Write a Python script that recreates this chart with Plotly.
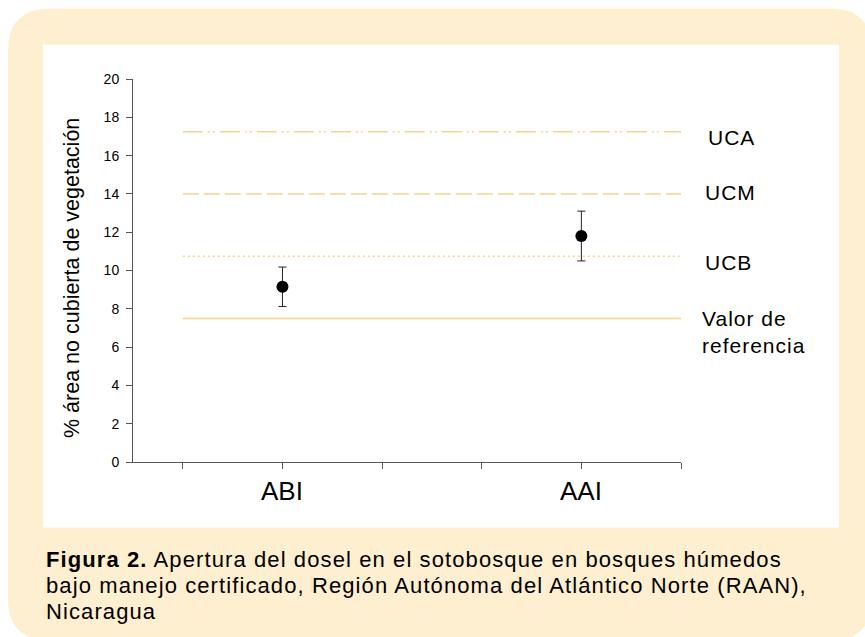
import plotly.graph_objects as go

# Canopy opening (% area without vegetation cover) per site
sites = ["ABI", "AAI"]
site_pos = [1.5, 4.5]
mean_opening = [9.15, 11.8]
err_opening = [1.03, 1.3]

# Reference thresholds
thr_names = ["UCA", "UCM", "UCB", "Valor de<br>referencia"]
thr_values = [17.25, 14.0, 10.75, 7.5]
thr_dash = ["20px,5px,2px,3px,2px,5px", "16px,5px", "2px,3px", "solid"]

y_ticks = [0, 2, 4, 6, 8, 10, 12, 14, 16, 18, 20]
x_ticks = [0.5, 1.5, 2.5, 3.5, 4.5, 5.5]

W, H = 865, 637
L, R, T, B = 133, 681, 79.3, 461.7


def px(x):
    return (x - L) / (R - L)


def py(y):
    return (B - y) / (B - T)


FONT = "Liberation Sans, Arial, sans-serif"
LINE_COLOR = "#F8D38E"

fig = go.Figure()

for name, val, dash in zip(thr_names, thr_values, thr_dash):
    fig.add_trace(go.Scatter(
        x=[x_ticks[0], x_ticks[-1]], y=[val, val], mode="lines",
        line=dict(color=LINE_COLOR, width=1.5, dash=dash),
        hoverinfo="skip", showlegend=False,
    ))

fig.add_trace(go.Scatter(
    x=site_pos, y=mean_opening, mode="markers",
    marker=dict(color="black", size=12),
    error_y=dict(type="data", array=err_opening, visible=True,
                 color="#222222", thickness=1, width=4),
    showlegend=False,
))

# Framed background: beige rounded card with white inner panel
x0, x1, y0, y1, r = px(8), px(872), py(9), py(640), 42
rx = r / (R - L)
ry = r / (B - T)
card = (f"M {x0 + rx},{y0} L {x1 - rx},{y0} Q {x1},{y0} {x1},{y0 - ry} "
        f"L {x1},{y1 + ry} Q {x1},{y1} {x1 - rx},{y1} "
        f"L {x0 + rx},{y1} Q {x0},{y1} {x0},{y1 + ry} "
        f"L {x0},{y0 - ry} Q {x0},{y0} {x0 + rx},{y0} Z")
shapes = [
    dict(type="path", xref="paper", yref="paper", path=card,
         fillcolor="#FFEFD1", line=dict(width=0), layer="below"),
    dict(type="rect", xref="paper", yref="paper",
         x0=px(43), x1=px(839), y0=py(45), y1=py(527),
         fillcolor="white", line=dict(width=0), layer="below"),
]

ann = []
# Category labels under the x axis
for s, xp in zip(sites, site_pos):
    ann.append(dict(x=xp, xref="x", y=py(491), yref="paper", text=s,
                    showarrow=False, xanchor="center", yanchor="middle",
                    font=dict(family=FONT, size=26, color="black")))

# Threshold labels at the right
lab_pos = [(706, 137.7), (703, 192.7), (703, 262.7), (700, 331.5)]
for name, (lx, ly) in zip(thr_names, lab_pos):
    ann.append(dict(x=px(lx), xref="paper", y=py(ly), yref="paper",
                    text=f'<span style="letter-spacing:1px">{name}</span>',
                    showarrow=False, xanchor="left", yanchor="middle", align="left",
                    font=dict(family=FONT, size=21, color="black")))

# Y axis title
ann.append(dict(x=px(72), xref="paper", y=py(278), yref="paper",
                text="% área no cubierta de vegetación", textangle=-90,
                showarrow=False, xanchor="center", yanchor="middle",
                font=dict(family=FONT, size=21.5, color="black")))

# Caption
cap_lines = [
    "<b>Figura 2.</b> Apertura del dosel en el sotobosque en bosques húmedos",
    "bajo manejo certificado, Región Autónoma del Atlántico Norte (RAAN),",
    "Nicaragua",
]
for i, line in enumerate(cap_lines):
    ann.append(dict(x=px(44), xref="paper", y=py(559 + 26 * i), yref="paper",
                    text=f'<span style="letter-spacing:1.1px">{line}</span>',
                    showarrow=False, xanchor="left", yanchor="middle", align="left",
                    font=dict(family=FONT, size=22, color="black")))

fig.update_layout(
    width=W, height=H, autosize=False,
    margin=dict(l=L, r=W - R, t=T, b=H - B),
    paper_bgcolor="white", plot_bgcolor="rgba(0,0,0,0)",
    shapes=shapes, annotations=ann, showlegend=False,
    xaxis=dict(range=[0, 5.5], tickvals=x_ticks, ticktext=[""] * len(x_ticks),
               ticks="outside", ticklen=6, tickcolor="#555555", tickwidth=1,
               showline=True, linecolor="#555555", linewidth=1,
               showgrid=False, zeroline=False, fixedrange=True),
    yaxis=dict(range=[0, 20], tickvals=y_ticks, ticks="outside", ticklen=6,
               tickcolor="#555555", tickwidth=1, showline=True,
               linecolor="#555555", linewidth=1, showgrid=False, zeroline=False,
               ticklabelstandoff=4,
               tickfont=dict(family=FONT, size=14, color="black"), fixedrange=True),
)

fig.write_html("out.html")
